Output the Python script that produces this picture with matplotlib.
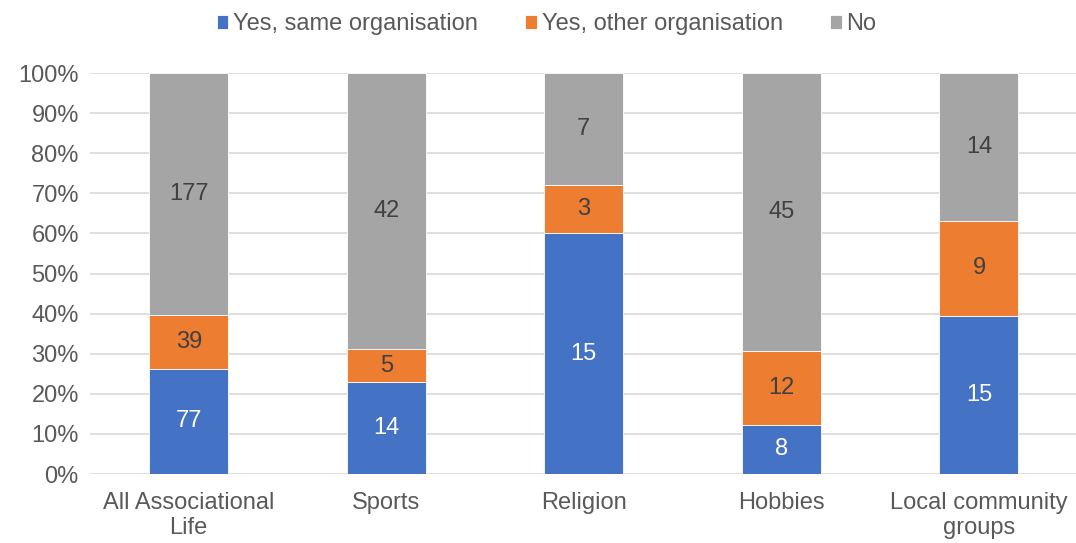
import numpy as np
import matplotlib.pyplot as plt

plt.rcParams['font.family'] = ['Liberation Sans', 'DejaVu Sans']

# Counts per category for each response
categories = ["All Associational\nLife", "Sports", "Religion", "Hobbies", "Local community\ngroups"]
same_org = [77, 14, 15, 8, 15]
other_org = [39, 5, 3, 12, 9]
no_answer = [177, 42, 7, 45, 14]
series_names = ["Yes, same organisation", "Yes, other organisation", "No"]
colors = ["#4472C4", "#ED7D31", "#A5A5A5"]
label_colors = ["white", "#404040", "#404040"]

counts = np.array([same_org, other_org, no_answer], dtype=float)
shares = counts / counts.sum(axis=0) * 100

fig = plt.figure(figsize=(10.76, 5.43), dpi=100)
ax = fig.add_axes([0.0836, 0.127, 0.918, 0.7385])

fs = 17
x = np.arange(len(categories))
bottom = np.zeros(len(categories))
for i in range(3):
    bars = ax.bar(x, shares[i], 0.4, bottom=bottom, color=colors[i],
                  label=series_names[i], edgecolor="white", linewidth=0.6, zorder=3)
    for j, b in enumerate(bars):
        ax.text(b.get_x() + b.get_width() / 2, bottom[j] + shares[i][j] / 2,
                f"{int(counts[i][j])}", ha="center", va="center",
                fontsize=fs, color=label_colors[i], zorder=4)
    bottom += shares[i]

ax.set_xlim(-0.5, len(categories) - 0.5)
ax.set_ylim(0, 100)
ax.set_yticks(np.arange(0, 101, 10))
ax.set_yticklabels([f"{v}%" for v in range(0, 101, 10)])
ax.set_xticks(x)
ax.set_xticklabels(categories, linespacing=1.2)
ax.tick_params(axis="both", length=0, labelsize=fs, labelcolor="#595959")
ax.tick_params(axis="x", pad=13)
ax.tick_params(axis="y", pad=8)
ax.grid(axis="y", color="#D9D9D9", linewidth=1.2, zorder=0)
for s in ax.spines.values():
    s.set_visible(False)

leg = fig.legend(loc="upper center", bbox_to_anchor=(0.508, 0.993), ncol=3, frameon=False,
                 fontsize=fs, handlelength=0.5, handleheight=0.5, handletextpad=0.2,
                 columnspacing=2.0, borderaxespad=0)
for t in leg.get_texts():
    t.set_color("#595959")

fig.savefig("out.png", dpi=100)
